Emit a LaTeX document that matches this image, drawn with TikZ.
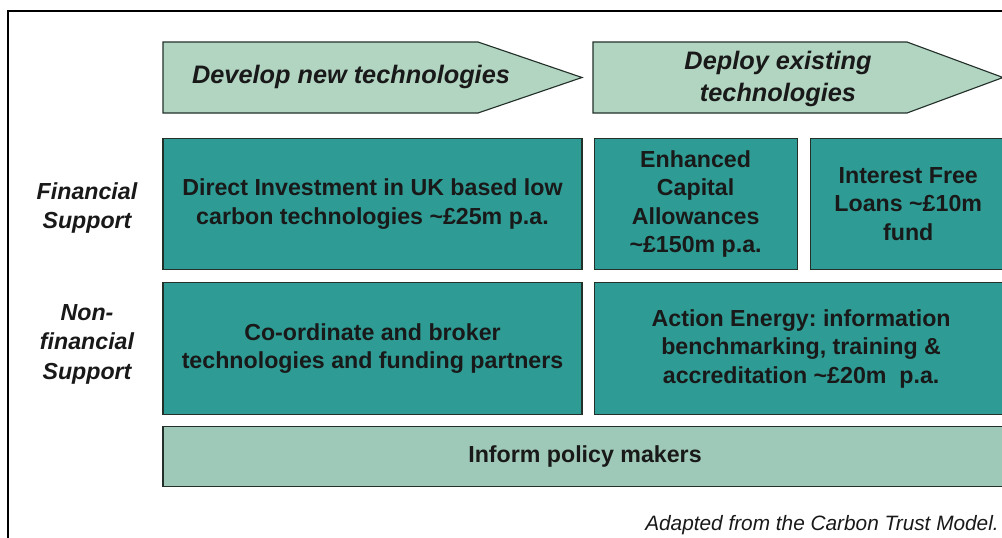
\documentclass[tikz,border=0pt]{standalone}
\usepackage{fontspec}
\setmainfont{Liberation Sans}
\usetikzlibrary{positioning}
\frenchspacing

\definecolor{tealdark}{RGB}{46,156,148}
\definecolor{sagelight}{RGB}{178,213,194}
\definecolor{sagemid}{RGB}{158,200,183}
\definecolor{edge}{RGB}{35,48,42}
\definecolor{ink}{RGB}{25,25,25}

\begin{document}
\begin{tikzpicture}[thick,
  box/.style = {draw=edge, fill=tealdark, align=center, text=ink, inner sep=0pt,
    font=\bfseries\fontsize{16.5}{20.3}\selectfont},
  phase/.style = {draw=edge, fill=sagelight},
  head/.style = {align=center, text=ink, font=\bfseries\itshape\fontsize{18}{22.5}\selectfont},
  side/.style = {align=center, text=ink, font=\bfseries\itshape\fontsize{16.5}{21}\selectfont}]

\useasboundingbox (0,0) rectangle (25.05,-13.45);
\draw[line width=1pt] (0.2,-14) |- (26,-0.275);

% the two phases
\draw[phase] (4.075,-1.05) -- (11.95,-1.05) -- (14.55,-1.9375) -- (11.95,-2.825) -- (4.075,-2.825) -- cycle;
\node[head] (dev) at (8.775,-1.925) {Develop new technologies};
\draw[phase] (14.825,-1.05) -- (22.675,-1.05) -- (25.075,-1.9375) -- (22.675,-2.825) -- (14.825,-2.825) -- cycle;
\node[head] (dep) at (19.45,-1.975) {Deploy existing\\technologies};

% financial support
\node[box, minimum width=10.475cm, minimum height=3.275cm] (direct) at (9.3125,-5.1)
  {Direct Investment in UK based low\\carbon technologies \textasciitilde£25m p.a.};
\node[box, minimum width=5.075cm, minimum height=3.275cm, right=0.275cm of direct] (eca)
  {Enhanced\\Capital\\Allowances\\\textasciitilde£150m p.a.};
\node[box, minimum width=4.9cm, minimum height=3.275cm, right=0.3cm of eca] (loans)
  {Interest Free\\Loans \textasciitilde£10m\\fund};

% non-financial support
\node[box, minimum width=10.475cm, minimum height=3.3cm, below=0.3cm of direct] (broker)
  {Co-ordinate and broker\\technologies and funding partners};
\node[box, minimum width=10.35cm, minimum height=3.3cm, below=0.3cm of eca.south west, anchor=north west] (action)
  {Action Energy: information\\benchmarking, training \&\\accreditation \textasciitilde£20m\ \ p.a.};
\node[box, fill=sagemid, minimum width=21.1cm, minimum height=1.5cm, below=0.275cm of broker.south west, anchor=north west] (inform)
  {Inform policy makers};

\node[side] (fin) at (2.175,-5.2) {Financial\\Support};
\node[side] (nonfin) at (2.175,-8.6) {Non-\\financial\\Support};

\node[anchor=base east, text=ink, font=\itshape\fontsize{14.8}{17}\selectfont] (src) at (25.1,-13.25)
  {Adapted from the Carbon Trust Model.};
\end{tikzpicture}
\end{document}
